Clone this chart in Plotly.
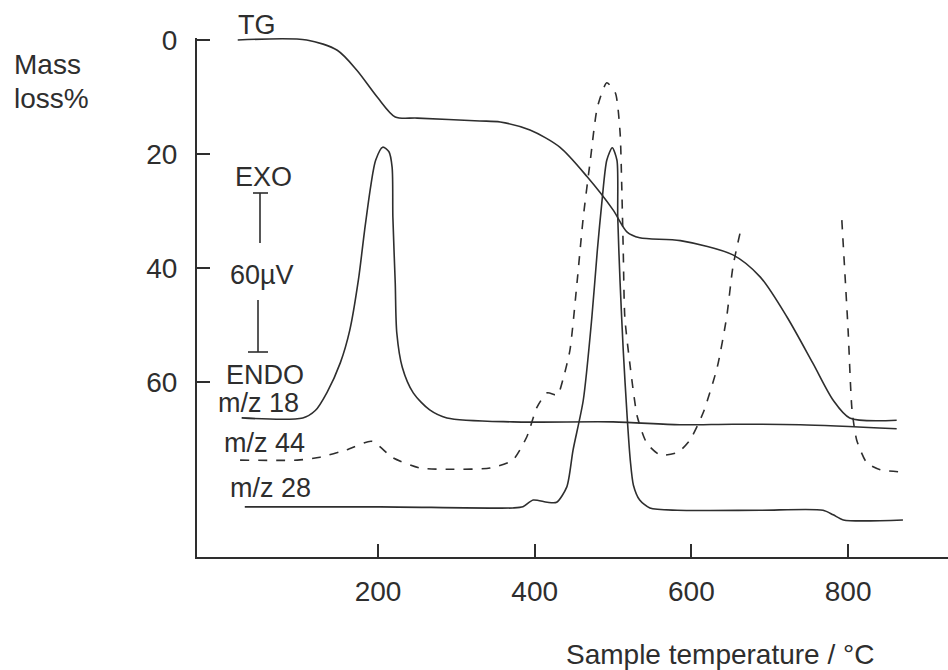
import plotly.graph_objects as go

# ---------------- data (temperature in degC, y in mass-loss-% axis units) ----------------
tg_temp = [21, 109, 148, 173, 199, 222, 250, 330, 356, 394, 432, 467, 500, 518, 534, 586, 653, 688, 722, 755, 781, 802, 862]
tg_loss = [0, 0, 1.8, 5.3, 10.0, 13.5, 13.7, 14.2, 14.4, 15.8, 18.8, 24.0, 29.8, 33.7, 34.7, 35.2, 37.7, 41.6, 48.6, 56.7, 63.2, 66.3, 66.7]

mz18_temp = [26, 104, 120, 135, 152, 164, 175, 183, 191, 197, 206, 214, 218, 219, 222, 224, 231, 245, 266, 288, 372, 500, 585, 653, 739, 862]
mz18_val = [66.3, 66.3, 65.0, 61.8, 56.6, 50.9, 42.1, 33.3, 25.4, 21.1, 18.8, 19.6, 22.3, 31.1, 42.6, 51.4, 57.4, 61.9, 64.9, 66.3, 67.0, 67.0, 67.5, 67.4, 67.5, 68.2]

mz44_temp = [24, 97, 126, 160, 192, 219, 254, 296, 343, 372, 390, 403, 416, 429, 436, 445, 454, 462, 471, 480, 492,
             503, 509, 511, 513, 515, 522, 531, 543, 560, 583, 598, 615, 633, 645, 653, 662,
             None,
             792, 800, 805, 811, 824, 841, 870]
mz44_val = [73.7, 73.7, 73.2, 71.9, 70.4, 73.3, 75.1, 75.3, 75.1, 73.7, 69.6, 64.4, 61.9, 62.3, 59.6, 54.4, 42.6, 31.1, 21.1, 11.8, 7.5,
            9.3, 16.3, 25.1, 36.8, 48.6, 57.4, 66.1, 70.7, 72.8, 72.3, 70.2, 65.4, 57.4, 48.6, 39.8, 33.9,
            None,
            31.6, 50.9, 64.9, 70.2, 74.2, 75.4, 75.8]

mz28_temp = [30, 203, 372, 385, 398, 416, 428, 441, 449, 462, 473, 480, 486, 492, 499, 505, 506, 509, 513, 518,
             522, 526, 534, 547, 582, 688, 768, 781, 794, 870]
mz28_val = [81.9, 81.9, 82.1, 81.9, 80.7, 81.1, 81.1, 78.4, 71.9, 63.2, 48.6, 36.8, 28.1, 21.1, 18.9, 21.1, 31.1, 42.6, 54.4, 66.1,
            73.7, 78.1, 80.7, 82.1, 82.5, 82.5, 82.5, 83.3, 84.2, 84.2]

x_ticks = [200, 400, 600, 800]
y_ticks = [0, 20, 40, 60]

# ---------------- layout geometry ----------------
W, H = 948, 670
ML, MR, MT, MB = 197, 0, 38, 113
PW, PH = W - ML - MR, H - MT - MB

def px(x):
    return (x - ML) / PW

def py(y):
    return (H - MB - y) / PH

INK = "#2e2e2e"
FONT = "Liberation Sans, Arial, sans-serif"

fig = go.Figure()
common = dict(mode="lines", hoverinfo="skip", showlegend=False)
fig.add_trace(go.Scatter(x=tg_temp, y=tg_loss, line=dict(color=INK, width=1.6, shape="spline", smoothing=0.8), **common))
fig.add_trace(go.Scatter(x=mz18_temp, y=mz18_val, line=dict(color=INK, width=1.6, shape="spline", smoothing=0.8), **common))
fig.add_trace(go.Scatter(x=mz44_temp, y=mz44_val, connectgaps=False,
                         line=dict(color=INK, width=1.6, dash="9px,9px", shape="spline", smoothing=0.6), **common))
fig.add_trace(go.Scatter(x=mz28_temp, y=mz28_val, line=dict(color=INK, width=1.6, shape="spline", smoothing=0.7), **common))

ann = []
def label(text, x, y, xanchor="center", size=27):
    ann.append(dict(text=text, x=px(x), y=py(y), xref="paper", yref="paper", showarrow=False,
                    xanchor=xanchor, yanchor="middle", font=dict(family=FONT, size=size, color=INK)))

label("TG", 257, 25)
label("EXO", 263, 177)
label("60\u00b5V", 262, 275)
label("ENDO", 265, 375)
label("m/z 18", 258, 403)
label("m/z 44", 264, 443)
label("m/z 28", 270, 488)
label("Mass", 12, 64, xanchor="left", size=28)
label("loss%", 12, 98, xanchor="left", size=28)
label("Sample temperature / \u00b0C", 720, 654, size=28)

shapes = []
def seg(x0, y0, x1, y1):
    shapes.append(dict(type="line", xref="paper", yref="paper", x0=px(x0), y0=py(y0), x1=px(x1), y1=py(y1),
                       line=dict(color=INK, width=1.6)))

# scale bar (EXO / ENDO)
seg(260, 193, 260, 243)
seg(253, 193, 268, 193)
seg(258, 300, 258, 352)
seg(248, 352, 268, 352)

fig.update_layout(
    width=W, height=H,
    margin=dict(l=ML, r=MR, t=MT, b=MB),
    paper_bgcolor="white", plot_bgcolor="white",
    font=dict(family=FONT, color=INK),
    annotations=ann, shapes=shapes,
    xaxis=dict(range=[-31, 927.5], tickvals=x_ticks, ticktext=[str(v) for v in x_ticks],
               ticks="inside", ticklen=13, tickwidth=1.6, tickcolor=INK,
               showline=True, linewidth=2, linecolor=INK, showgrid=False, zeroline=False,
               tickfont=dict(size=28, family=FONT, color=INK), ticklabelstandoff=8),
    yaxis=dict(range=[90.7, -0.35], tickvals=y_ticks, ticktext=[str(v) for v in y_ticks],
               ticks="inside", ticklen=13, tickwidth=1.6, tickcolor=INK,
               showline=True, linewidth=2, linecolor=INK, showgrid=False, zeroline=False,
               tickfont=dict(size=28, family=FONT, color=INK), ticklabelstandoff=12),
)

fig.write_html("out.html")
